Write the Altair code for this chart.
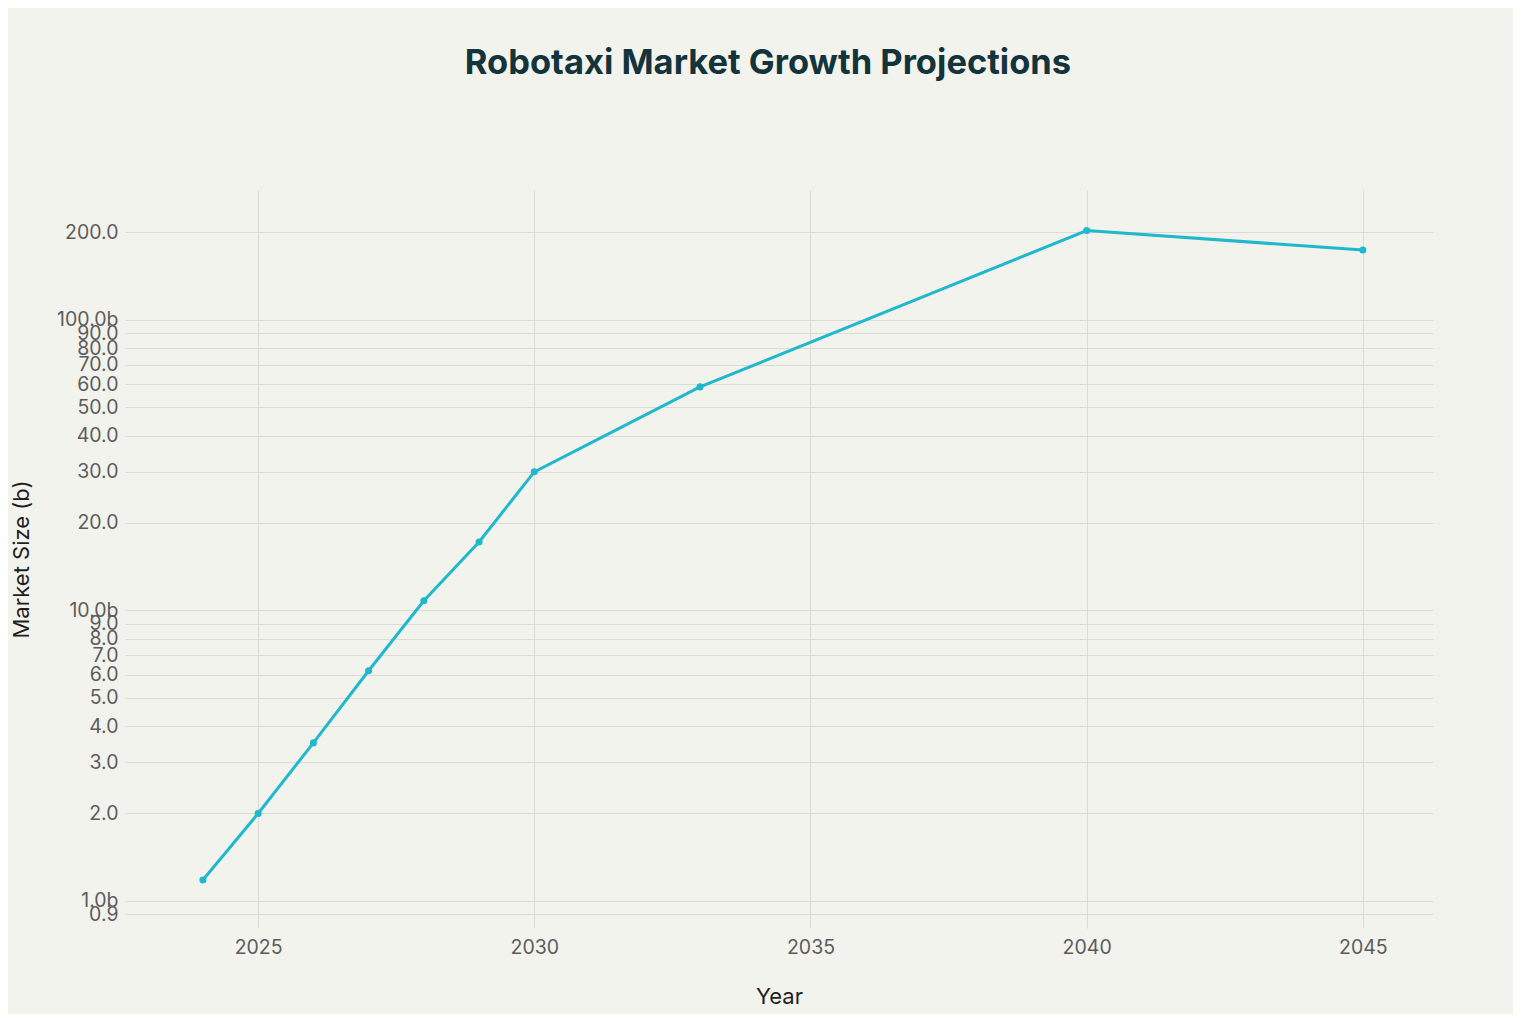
import altair as alt
import pandas as pd

years = [2024, 2025, 2026, 2027, 2028, 2029, 2030, 2033, 2040, 2045]
market_size = [1.18, 2.0, 3.5, 6.2, 10.8, 17.2, 30.0, 58.8, 203.0, 174.0]

y_ticks = [0.9, 1, 2, 3, 4, 5, 6, 7, 8, 9, 10, 20, 30, 40, 50, 60, 70, 80, 90, 100, 200]
x_ticks = [2025, 2030, 2035, 2040, 2045]

source = pd.DataFrame({"Year": years, "Market Size": market_size})

line_color = "#1FB8CD"
font = "Inter"

base = alt.Chart(source).encode(
    x=alt.X(
        "Year:Q",
        scale=alt.Scale(domain=[2022.59, 2046.27], nice=False, zero=False),
        axis=alt.Axis(
            title="Year",
            values=x_ticks,
            format="d",
            grid=True,
            domain=False,
            ticks=False,
            labelPadding=10,
            titlePadding=30,
        ),
    ),
    y=alt.Y(
        "Market Size:Q",
        scale=alt.Scale(type="log", domain=[0.807, 280], nice=False, zero=False),
        axis=alt.Axis(
            title="Market Size (b)",
            values=y_ticks,
            labelExpr="(datum.value == 1 || datum.value == 10 || datum.value == 100)"
            " ? format(datum.value, '.1f') + 'b' : format(datum.value, '.1f')",
            labelOverlap=False,
            domain=False,
            ticks=False,
            labelPadding=7,
            titlePadding=23,
        ),
    ),
)

line = base.mark_line(color=line_color, strokeWidth=3)
points = base.mark_circle(color=line_color, size=50, opacity=1)

chart = (
    (line + points)
    .properties(
        width=1308,
        height=738,
        background="#F3F3EE",
        autosize=alt.AutoSizeParams(type="none"),
        padding={"left": 117, "top": 182, "right": 80, "bottom": 86},
        title=alt.TitleParams(
            "Robotaxi Market Growth Projections",
            anchor="middle",
            frame="group",
            dx=-11,
            offset=82,
            baseline="alphabetic",
            font=font,
            fontSize=34.5,
            fontWeight="bold",
            color="#13343B",
        ),
    )
    .configure_view(stroke=None)
    .configure_axis(
        gridColor="#DCDCD6",
        gridWidth=1,
        labelFont=font,
        labelFontSize=19.5,
        labelColor="#5C5C5C",
        titleFont=font,
        titleFontSize=22,
        titleFontWeight="normal",
        titleColor="#1F1F1F",
    )
)

chart.save("out.html", embed_options={"renderer": "svg", "actions": False})
